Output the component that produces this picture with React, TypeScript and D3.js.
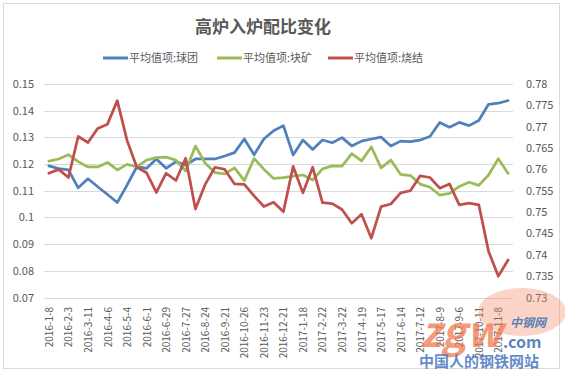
import { useEffect, useRef } from 'react'
import * as d3 from 'd3'

const dates = [
  '2016-1-8', '2016-1-22', '2016-2-3', '2016-2-24', '2016-3-11', '2016-3-23', '2016-4-6', '2016-4-20',
  '2016-5-4', '2016-5-18', '2016-6-1', '2016-6-15', '2016-6-29', '2016-7-13', '2016-7-27', '2016-8-10',
  '2016-8-24', '2016-9-7', '2016-9-21', '2016-10-12', '2016-10-26', '2016-11-9', '2016-11-23', '2016-12-7',
  '2016-12-21', '2017-1-4', '2017-1-18', '2017-2-8', '2017-2-22', '2017-3-8', '2017-3-22', '2017-4-5',
  '2017-4-19', '2017-5-3', '2017-5-17', '2017-5-31', '2017-6-14', '2017-6-28', '2017-7-12', '2017-7-26',
  '2017-8-9', '2017-8-23', '2017-9-6', '2017-9-20', '2017-10-11', '2017-10-25', '2017-11-8', '2017-11-22',
]

// 球团 (left axis)
const pellet = [
  0.1193, 0.1183, 0.1178, 0.1111, 0.1145, 0.1115, 0.1086, 0.1056,
  0.1121, 0.119, 0.1184, 0.1219, 0.1184, 0.1209, 0.1196, 0.1219,
  0.1219, 0.1219, 0.123, 0.1243, 0.1294, 0.1235, 0.1294, 0.1325,
  0.1344, 0.1234, 0.129, 0.1255, 0.129, 0.128, 0.1299, 0.1268,
  0.1286, 0.1294, 0.1301, 0.1268, 0.1286, 0.1284, 0.129, 0.1303,
  0.1356, 0.1338, 0.1356, 0.1344, 0.1363, 0.1424, 0.1428, 0.1438,
]

// 块矿 (left axis)
const lump = [
  0.1211, 0.1219, 0.1235, 0.1209, 0.1189, 0.1189, 0.1206, 0.1178,
  0.1199, 0.119, 0.1215, 0.1224, 0.1226, 0.1215, 0.1174, 0.1268,
  0.1203, 0.1168, 0.1163, 0.1186, 0.1138, 0.1221, 0.1181, 0.1146,
  0.1149, 0.1155, 0.1159, 0.114, 0.1182, 0.1193, 0.1192, 0.1239,
  0.1212, 0.1264, 0.1186, 0.1215, 0.1161, 0.1157, 0.1125, 0.1113,
  0.1084, 0.109, 0.1116, 0.1132, 0.112, 0.1159, 0.122, 0.1165,
]

// 烧结 (right axis)
const sinter = [
  0.7591, 0.76, 0.7581, 0.7677, 0.7663, 0.7696, 0.7706, 0.7761,
  0.7668, 0.7605, 0.7592, 0.7546, 0.7591, 0.7574, 0.7626, 0.7507,
  0.7565, 0.7605, 0.76, 0.7566, 0.7565, 0.7538, 0.7513, 0.7523,
  0.7501, 0.7607, 0.7545, 0.7605, 0.7522, 0.752, 0.7506, 0.7474,
  0.7495, 0.7439, 0.7513, 0.7519, 0.7545, 0.755, 0.7585, 0.7581,
  0.7556, 0.7566, 0.7517, 0.7521, 0.7517, 0.7408, 0.735, 0.7388,
]

const leftTicks = [0.07, 0.08, 0.09, 0.1, 0.11, 0.12, 0.13, 0.14, 0.15]
const rightTicks = [0.73, 0.735, 0.74, 0.745, 0.75, 0.755, 0.76, 0.765, 0.77, 0.775, 0.78]
const seriesNames = ['平均值项:球团', '平均值项:块矿', '平均值项:烧结']
const colors = ['#4f81bd', '#9bbb59', '#c0504d']

const FONT = '"Noto Sans CJK SC", "Noto Sans", sans-serif'
const TEXT = '#595959'

export default function App() {
  const ref = useRef<SVGSVGElement>(null)

  useEffect(() => {
    const svg = d3.select(ref.current)
    svg.selectAll('*').remove()

    const left = 44, right = 513, top = 84, bottom = 297.5

    const x = d3.scaleBand().domain(dates).range([left, right])
    const cx = (d: string) => (x(d) ?? 0) + x.bandwidth() / 2
    const yL = d3.scaleLinear().domain([0.07, 0.15]).range([bottom, top])
    const yR = d3.scaleLinear().domain([0.73, 0.78]).range([bottom, top])

    svg.append('rect')
      .attr('x', 3.5).attr('y', 3.5).attr('width', 556).attr('height', 365)
      .attr('fill', '#fff').attr('stroke', '#d9d9d9')

    svg.append('text')
      .attr('x', 263).attr('y', 33)
      .attr('text-anchor', 'middle')
      .attr('font-size', 17).attr('font-weight', 'bold')
      .attr('fill', TEXT).attr('font-family', FONT)
      .text('高炉入炉配比变化')

    // legend
    const legendX = [103, 217, 328]
    seriesNames.forEach((name, i) => {
      const g = svg.append('g').attr('transform', `translate(${legendX[i]},58)`)
      g.append('line').attr('x1', 0).attr('x2', 25).attr('y1', 0).attr('y2', 0)
        .attr('stroke', colors[i]).attr('stroke-width', 3)
      g.append('text').attr('x', 26).attr('y', 4)
        .attr('font-size', 11).attr('fill', TEXT).attr('font-family', FONT)
        .text(name)
    })

    // grid
    svg.append('g').selectAll('line')
      .data(leftTicks)
      .enter().append('line')
      .attr('x1', left).attr('x2', right)
      .attr('y1', (d) => Math.round(yL(d)) + 0.5).attr('y2', (d) => Math.round(yL(d)) + 0.5)
      .attr('stroke', '#d9d9d9').attr('stroke-width', 1)

    svg.append('g').selectAll('text')
      .data(leftTicks)
      .enter().append('text')
      .attr('x', 34).attr('y', (d) => yL(d) + 4)
      .attr('text-anchor', 'end')
      .attr('font-size', 11).attr('fill', TEXT).attr('font-family', FONT)
      .text((d) => String(+d.toFixed(2)))

    svg.append('g').selectAll('text')
      .data(rightTicks)
      .enter().append('text')
      .attr('x', 526).attr('y', (d) => yR(d) + 4)
      .attr('font-size', 11).attr('fill', TEXT).attr('font-family', FONT)
      .text((d) => String(+d.toFixed(3)))

    svg.append('g').selectAll('text')
      .data(dates.filter((_, i) => i % 2 === 0))
      .enter().append('text')
      .attr('transform', (d) => `translate(${cx(d) + 4},307) rotate(-90)`)
      .attr('text-anchor', 'end')
      .attr('font-size', 10).attr('fill', TEXT).attr('font-family', FONT)
      .text((d) => d)

    const series = [
      { values: pellet, y: yL },
      { values: lump, y: yL },
      { values: sinter, y: yR },
    ]
    series.forEach((s, i) => {
      const line = d3.line<number>()
        .x((_, j) => cx(dates[j]))
        .y((v) => s.y(v))
      svg.append('path')
        .attr('d', line(s.values))
        .attr('fill', 'none')
        .attr('stroke', colors[i])
        .attr('stroke-width', 2.75)
        .attr('stroke-linejoin', 'round')
        .attr('stroke-linecap', 'round')
    })

    // watermark
    const wm = svg.append('g').attr('font-family', FONT).attr('pointer-events', 'none')
    wm.append('ellipse').attr('cx', 522).attr('cy', 312).attr('rx', 44).attr('ry', 24)
      .attr('fill', '#f4845f').attr('opacity', 0.35)
    wm.append('text').attr('x', 420).attr('y', 347)
      .attr('font-size', 42).attr('font-weight', 'bold').attr('font-style', 'italic')
      .attr('fill', '#f07a4e').attr('opacity', 0.75).text('zgw')
    wm.append('text').attr('x', 503).attr('y', 348)
      .attr('font-size', 16).attr('font-weight', 'bold')
      .attr('fill', '#3f72b5').attr('opacity', 0.85).text('.com')
    wm.append('text').attr('x', 510).attr('y', 327)
      .attr('font-size', 12).attr('font-weight', 'bold').attr('font-style', 'italic')
      .attr('fill', '#3f72b5').attr('opacity', 0.85).text('中钢网')
    wm.append('text').attr('x', 419).attr('y', 367)
      .attr('font-size', 15).attr('font-weight', 'bold')
      .attr('fill', '#4a78c0').attr('opacity', 0.85).text('中国人的钢铁网站')
  }, [])

  return (
    <div style={{ position: 'absolute', left: 0, top: 0 }}>
      <svg ref={ref} width={565} height={372} style={{ display: 'block', background: '#fff' }} />
    </div>
  )
}
